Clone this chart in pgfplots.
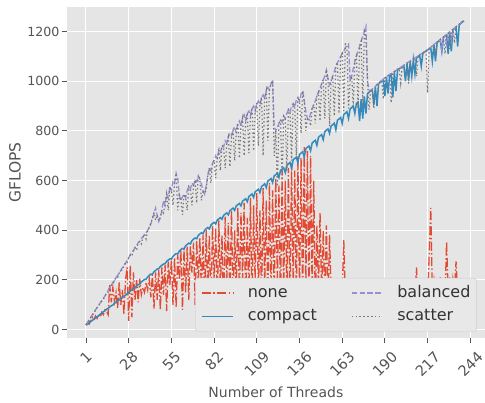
\documentclass[border=0pt]{standalone}
\usepackage{fontspec}
\setmainfont{DejaVu Sans}
\usepackage{graphicx}
\usepackage{pgfplots}
\usepackage{pgfplotstable}
\pgfplotsset{compat=1.18}
\definecolor{bg}{HTML}{E5E5E5}
\definecolor{cnone}{HTML}{E24A33}
\definecolor{ccomp}{HTML}{348ABD}
\definecolor{cbal}{HTML}{988ED5}
\definecolor{cscat}{HTML}{777777}
\definecolor{tickc}{HTML}{555555}
\definecolor{legtext}{HTML}{333333}
\definecolor{legedge}{HTML}{CCCCCC}
\definecolor{legfill}{HTML}{E8E8E8}

\pgfplotstableread{
t none compact balanced scatter
1 18 18 20 20
2 25 23 30 29
3 22 28 40 36
4 35 33 50 49
5 50 37 60 58
6 38 42 68 66
7 55 47 80 78
8 45 52 88 88
9 60 56 98 95
10 50 62 108 108
11 70 67 115 116
12 60 72 127 122
13 80 76 135 135
14 75 82 148 147
15 60 86 157 150
16 180 91 170 170
17 110 96 178 178
18 170 99 190 182
19 113 106 197 198
20 150 111 210 210
21 85 116 218 210
22 190 120 228 228
23 100 126 238 238
24 160 130 250 240
25 60 135 258 258
26 200 138 268 268
27 250 145 278 265
28 35 150 290 290
29 260 155 300 300
30 50 160 312 295
31 230 163 318 318
32 120 171 330 330
33 200 176 338 320
34 110 181 350 350
35 205 183 355 356
36 140 192 368 345
37 170 197 372 372
38 150 202 385 385
39 190 203 390 365
40 160 212 400 400
41 205 218 410 412
42 130 223 425 430
43 220 223 445 448
44 85 233 470 472
45 230 238 490 440
46 120 244 460 462
47 240 245 435 438
48 80 254 450 452
49 250 259 480 482
50 140 264 520 470
51 260 265 500 502
52 75 275 545 546
53 275 280 530 480
54 180 285 575 576
55 280 284 560 562
56 100 295 600 500
57 290 301 590 592
58 90 306 630 628
59 300 304 610 480
60 200 316 540 542
61 320 322 520 522
62 80 327 535 462
63 325 325 545 546
64 150 337 530 532
65 335 343 560 480
66 120 348 575 576
67 340 345 565 566
68 230 358 590 500
69 350 364 580 582
70 100 369 600 602
71 360 366 595 510
72 180 379 620 620
73 370 385 605 606
74 140 390 585 520
75 380 386 560 562
76 120 400 545 548
77 400 406 580 560
78 150 411 620 622
79 380 405 650 652
80 90 421 640 590
81 420 427 670 672
82 200 432 680 682
83 410 425 700 610
84 100 441 690 692
85 440 446 720 722
86 160 451 710 640
87 380 444 740 742
88 60 460 735 736
89 455 465 760 650
90 180 470 750 752
91 430 462 775 776
92 120 479 790 656
93 480 484 780 782
94 90 489 800 802
95 400 480 810 680
96 150 498 795 798
97 495 503 830 832
98 110 508 840 690
99 470 498 820 822
100 200 517 850 852
101 510 522 865 700
102 80 527 840 842
103 450 515 870 872
104 140 536 880 710
105 530 541 860 862
106 100 546 890 892
107 500 532 900 720
108 170 555 880 882
109 550 560 910 912
110 120 565 920 740
111 480 552 905 906
112 90 576 935 936
113 570 581 945 700
114 160 587 930 932
115 520 572 960 962
116 70 598 975 760
117 590 603 965 966
118 130 608 990 992
119 560 592 1005 1003
120 100 619 820 700
121 610 624 800 800
122 180 630 815 576
123 580 612 830 830
124 90 641 845 846
125 640 646 835 600
126 150 651 860 860
127 600 632 850 852
128 110 662 870 640
129 650 667 885 886
130 80 673 875 876
131 670 650 900 680
132 160 684 910 910
133 640 689 895 896
134 100 694 925 700
135 700 672 935 936
136 130 705 920 922
137 690 711 950 790
138 90 716 960 962
139 735 695 920 922
140 170 728 880 800
141 720 734 850 852
142 110 739 845 846
143 700 720 870 820
144 150 751 890 892
145 600 757 905 906
146 90 762 920 830
147 420 742 940 942
148 160 774 955 956
149 470 780 970 840
150 130 785 990 992
151 400 765 1005 1006
152 120 797 1020 850
153 420 803 1045 1046
154 100 808 1010 1012
155 380 790 985 818
156 150 820 1000 1002
157 180 825 1020 1022
158 90 831 1040 860
159 160 805 1060 1062
160 120 843 1075 1076
161 190 848 1085 870
162 80 854 1100 1102
163 150 830 1110 1112
164 360 866 1120 880
165 120 871 1135 1150
166 170 877 1145 1146
167 90 850 1150 890
168 150 888 1000 1002
169 110 894 1020 1022
170 180 900 1050 900
171 100 870 1080 1082
172 160 911 1100 1102
173 130 916 1120 890
174 190 840 1140 1142
175 90 928 1160 1162
176 150 850 1180 900
177 120 939 1200 1202
178 170 870 1220 1180
179 100 950 1000 1000
180 160 956 965 885
181 130 961 962 962
182 180 967 968 968
183 90 905 975 890
184 150 978 980 980
185 120 900 986 986
186 170 990 992 992
187 100 995 998 998
188 160 1001 1003 1003
189 130 1006 1008 928
190 180 940 1014 1014
191 110 1016 1018 1018
192 150 950 1022 1022
193 120 1025 1027 1027
194 170 1029 1031 913
195 90 935 1035 1035
196 160 1037 1039 1039
197 130 960 1043 1043
198 180 1046 1048 1048
199 100 1050 1052 1052
200 150 1054 1056 993
201 120 1058 1060 1060
202 170 1062 1064 1064
203 90 1000 1068 1068
204 160 1071 1073 1073
205 130 1005 1077 990
206 185 1079 1081 1081
207 100 1020 1085 1085
208 150 1087 1089 1089
209 120 1030 1094 1094
210 250 1096 1098 1020
211 110 1100 1102 1102
212 170 1104 1106 1106
213 130 1060 1110 1110
214 160 1112 1114 1114
215 100 1117 1119 1119
216 180 1121 1123 1123
217 120 1125 1127 953
218 300 1130 1132 1132
219 490 1135 1137 1137
220 150 1080 1142 1142
221 200 1146 1148 1148
222 130 1080 1153 1105
223 170 1156 1158 1158
224 110 1161 1163 1163
225 210 1166 1168 1168
226 140 1120 1125 1173
227 205 1176 1178 1178
228 120 1181 1183 1110
229 355 1186 1150 1188
230 150 1110 1194 1194
231 210 1197 1199 1130
232 130 1120 1160 1204
233 205 1207 1209 1209
234 160 1212 1214 1154
235 275 1217 1219 1219
236 140 1140 1224 1224
237 180 1227 1229 1229
238 120 1233 1235 1235
239 170 1238 1240 1240
240 150 1243 1245 1245
}\datatable

\begin{document}
\begin{tikzpicture}
\begin{axis}[
  scale only axis,
  width=418.3pt, height=331.6pt,
  xmin=-11.2, xmax=253.3, ymin=-35, ymax=1300,
  axis background/.style={fill=bg},
  axis line style={draw=none},
  grid=major,
  major grid style={white, line width=1pt},
  tick pos=left,
  tick align=outside,
  major tick length=5pt,
  tick style={tickc, line width=0.9pt},
  xtick={1,28,55,82,109,136,163,190,217,244},
  xticklabels={\rotatebox{45}{1},\rotatebox{45}{28},\rotatebox{45}{55},\rotatebox{45}{82},\rotatebox{45}{109},\rotatebox{45}{136},\rotatebox{45}{163},\rotatebox{45}{190},\rotatebox{45}{217},\rotatebox{45}{244}},
  ytick={0,200,400,600,800,1000,1200},
  /pgf/number format/assume math mode=true,
  /pgf/number format/1000 sep={},
  xticklabel style={anchor=north, font=\fontsize{14.5}{16}\selectfont, text=tickc, inner xsep=0pt, inner ysep=7pt},
  yticklabel style={font=\fontsize{12.6}{14}\selectfont, text=tickc, inner xsep=2pt},
  xlabel={Number of Threads},
  ylabel={GFLOPS},
  xlabel style={font=\fontsize{14}{16}\selectfont, text=tickc, at={(axis description cs:0.5,-0.164)}, anchor=center},
  ylabel style={font=\fontsize{15.5}{17}\selectfont, text=tickc, at={(axis description cs:-0.1236,0.5)}, anchor=center},
  legend columns=2,
  legend cell align=left,
  legend image code/.code={\draw[#1] (0pt,0pt) -- (31pt,0pt);},
  legend style={at={(0.98,0.02)}, anchor=south east, draw=legedge, fill=legfill,
    rounded corners=2.5pt, font=\fontsize{16}{19}\selectfont, text=legtext,
    inner xsep=6pt, inner ysep=3.3pt, row sep=0.7pt,
    nodes={text height=12.2pt, text depth=3.8pt, inner xsep=0pt, inner ysep=3.5pt},
    /tikz/every odd column/.append style={column sep=14pt},
    /tikz/every even column/.append style={column sep=34pt}},
]
\addplot[forget plot, cnone, line width=1.3pt, dash pattern=on 9pt off 2.4pt on 1.5pt off 2.4pt] table[x=t, y=none] {\datatable};
\addplot[forget plot, ccomp, line width=1.5pt] table[x=t, y=compact] {\datatable};
\addplot[forget plot, cbal, line width=1.3pt, dash pattern=on 5.5pt off 2.4pt] table[x=t, y=balanced] {\datatable};
\addplot[forget plot, cscat, line width=1.2pt, dash pattern=on 1.4pt off 2.5pt] table[x=t, y=scatter] {\datatable};
\addlegendimage{cnone, line width=1.3pt, dash pattern=on 9pt off 2.4pt on 1.5pt off 2.4pt}
\addlegendentry{none}
\addlegendimage{cbal, line width=1.3pt, dash pattern=on 5.5pt off 2.4pt}
\addlegendentry{balanced}
\addlegendimage{ccomp, line width=1.5pt}
\addlegendentry{compact}
\addlegendimage{cscat, line width=1.2pt, dash pattern=on 1.4pt off 2.5pt}
\addlegendentry{scatter}
\end{axis}
\pgfresetboundingbox
\path[use as bounding box] (current axis.south west) ++(-66.7pt,-63.7pt) rectangle ++(485pt,402pt);
\end{tikzpicture}
\end{document}
